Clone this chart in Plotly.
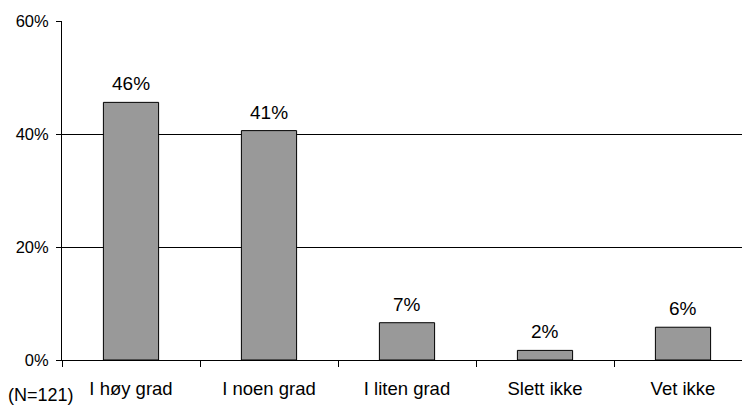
import plotly.graph_objects as go

categories = ["I høy grad", "I noen grad", "I liten grad", "Slett ikke", "Vet ikke"]
shares = [45.6, 40.6, 6.6, 1.7, 5.8]
y_ticks = [0, 20, 40, 60]
y_tick_labels = ["0%", "20%", "40%", "60%"]
sample_note = "(N=121)"

W, H = 742, 407
L, R, T, B = 62, 0, 21, 47
plot_w = W - L - R
plot_h = H - T - B
cat_px = 138  # pixel width of one category slot
FONT = "Liberation Sans, Arial"

fig = go.Figure()
fig.add_trace(go.Bar(
    x=categories,
    y=shares,
    marker=dict(color="#999999", line=dict(color="#000000", width=1)),
    width=0.4,
    hoverinfo="skip",
))

# value labels above each bar
for c, v in zip(categories, shares):
    fig.add_annotation(
        x=c, y=v, xref="x", yref="y",
        text=f"{round(v):.0f}%",
        showarrow=False, yanchor="bottom", yshift=6,
        font=dict(family=FONT, size=19, color="#000000"),
    )

# sample size note in the bottom-left corner
fig.add_annotation(
    x=-(L - 6) / plot_w, xref="paper", xanchor="left",
    y=-B / plot_h, yref="paper", yanchor="bottom",
    text=sample_note, showarrow=False,
    font=dict(family=FONT, size=18, color="#000000"),
)

fig.update_layout(
    width=W, height=H,
    margin=dict(l=L, r=R, t=T, b=B, pad=0),
    paper_bgcolor="#ffffff", plot_bgcolor="#ffffff",
    showlegend=False,
    font=dict(family=FONT, size=16, color="#000000"),
)
fig.update_xaxes(
    type="category",
    range=[-0.5, -0.5 + plot_w / cat_px],
    tickson="boundaries",
    ticks="outside", ticklen=6, tickcolor="#000000", tickwidth=1,
    showline=True, linecolor="#000000", linewidth=1,
    showgrid=False, zeroline=False,
    ticklabelstandoff=12,
    tickfont=dict(family=FONT, size=18.5, color="#000000"),
)
fig.update_yaxes(
    range=[0, 60],
    tickvals=y_ticks, ticktext=y_tick_labels,
    ticks="outside", ticklen=5, tickcolor="#000000", tickwidth=1,
    showline=True, linecolor="#000000", linewidth=1,
    showgrid=True, gridcolor="#000000", gridwidth=1,
    zeroline=False,
    ticklabelstandoff=4,
    tickfont=dict(family=FONT, size=16.5, color="#000000"),
)

fig.write_html("out.html")
